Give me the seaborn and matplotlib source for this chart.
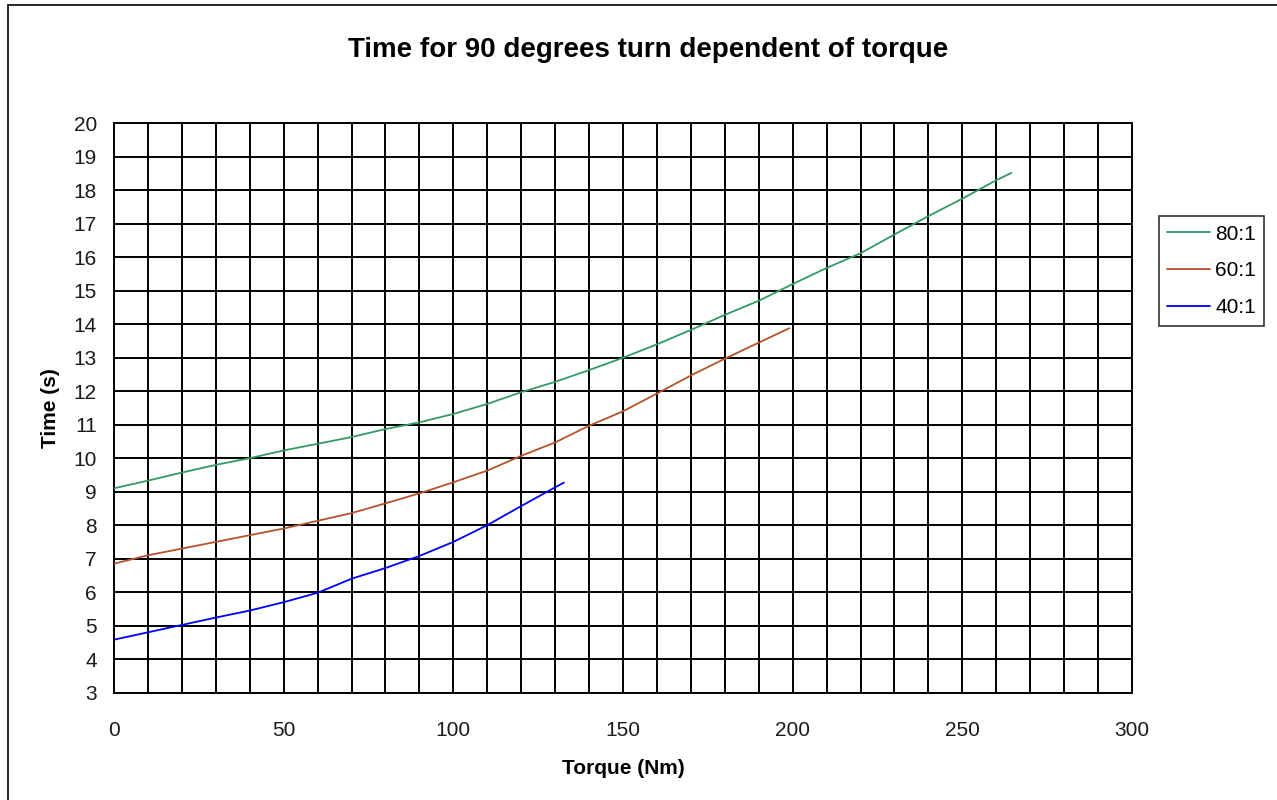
import matplotlib
matplotlib.use("Agg")
import matplotlib.pyplot as plt
import seaborn as sns
import pandas as pd
from matplotlib.ticker import MultipleLocator
from matplotlib.patches import Rectangle

# ---- data ----
series_names = ["80:1", "60:1", "40:1"]
torque_80 = [0, 10, 20, 30, 40, 50, 60, 70, 80, 90, 100, 110, 120, 130, 140,
             150, 160, 170, 180, 190, 200, 210, 220, 230, 240, 250, 260, 264.5]
time_80 = [9.1, 9.33, 9.57, 9.8, 10.0, 10.23, 10.43, 10.63, 10.87, 11.07, 11.32,
           11.62, 11.97, 12.28, 12.63, 13.0, 13.4, 13.83, 14.28, 14.7, 15.2,
           15.68, 16.12, 16.68, 17.23, 17.75, 18.3, 18.52]
torque_60 = [0, 10, 20, 30, 40, 50, 60, 70, 80, 90, 100, 110, 120, 130, 140,
             150, 160, 170, 180, 190, 199]
time_60 = [6.85, 7.1, 7.3, 7.5, 7.7, 7.9, 8.13, 8.36, 8.65, 8.95, 9.28, 9.63,
           10.07, 10.47, 10.97, 11.4, 11.93, 12.47, 12.97, 13.45, 13.88]
torque_40 = [0, 10, 20, 30, 40, 50, 60, 70, 80, 90, 100, 110, 120, 130, 132.6]
time_40 = [4.58, 4.8, 5.02, 5.24, 5.45, 5.7, 5.98, 6.4, 6.72, 7.08, 7.5, 8.0,
           8.57, 9.13, 9.27]
x_ticks = [0, 50, 100, 150, 200, 250, 300]
y_ticks = list(range(3, 21))

colors = {"80:1": "#339966", "60:1": "#B5532A", "40:1": "#0000FF"}

frames = []
for name, xs, ys in [("80:1", torque_80, time_80),
                     ("60:1", torque_60, time_60),
                     ("40:1", torque_40, time_40)]:
    frames.append(pd.DataFrame({"Torque": xs, "Time": ys, "Ratio": name}))
df = pd.concat(frames, ignore_index=True)

sns.set_theme(style="white")
plt.rcParams["font.family"] = ["Liberation Sans", "DejaVu Sans"]
plt.rcParams["text.color"] = "black"
plt.rcParams["axes.labelcolor"] = "black"

fig = plt.figure(figsize=(12.77, 8.0), dpi=100)
ax = fig.add_axes([114/1277, 1-692.6/800, (1132-114)/1277, (692.6-123.3)/800])

sns.lineplot(data=df, x="Torque", y="Time", hue="Ratio", hue_order=series_names,
             palette=colors, ax=ax, linewidth=1.3, sort=False, estimator=None,
             legend=True, zorder=3)

ax.set_xlim(0, 300)
ax.set_ylim(3, 20)
ax.set_xticks(x_ticks)
ax.set_yticks(y_ticks)
ax.xaxis.set_minor_locator(MultipleLocator(10))
ax.grid(True, which="both", axis="x", color="black", linewidth=1.4, zorder=1)
ax.grid(True, which="major", axis="y", color="black", linewidth=1.4, zorder=1)
ax.set_axisbelow(True)
ax.tick_params(axis="both", which="major", direction="out", length=5.3, width=1.2,
               color="black", labelsize=15, labelcolor="#1a1a1a")
ax.tick_params(axis="x", which="major", pad=15)
ax.tick_params(axis="y", which="major", pad=7)
ax.tick_params(axis="x", which="minor", length=0)
for sp in ax.spines.values():
    sp.set_color("black")
    sp.set_linewidth(1.4)

ax.set_xlabel("Torque (Nm)", fontsize=15, fontweight="bold", labelpad=14)
ax.set_ylabel("Time (s)", fontsize=15, fontweight="bold", labelpad=10)

fig.text(648/1277, 1-50/800, "Time for 90 degrees turn dependent of torque",
         ha="center", va="center", fontsize=20, fontweight="bold", color="black")

handles, labels = ax.get_legend_handles_labels()
leg = ax.legend(handles, labels, loc="center left",
                bbox_to_anchor=(1159/1277, 1-271/800),
                bbox_transform=fig.transFigure, frameon=True, fancybox=False,
                edgecolor="black", fontsize=15, handlelength=2.05,
                handletextpad=0.25, borderpad=0.4, labelspacing=0.85,
                borderaxespad=0)
leg.get_frame().set_linewidth(1.2)
for t in leg.get_texts():
    t.set_color("black")
for h in leg.get_lines():
    h.set_linewidth(1.3)

fig.patches.append(Rectangle((8/1277, -0.05), 1.1, 1-5/800+0.05,
                             transform=fig.transFigure, fill=False,
                             edgecolor="black", linewidth=1.2))

fig.savefig("out.png", dpi=100)
